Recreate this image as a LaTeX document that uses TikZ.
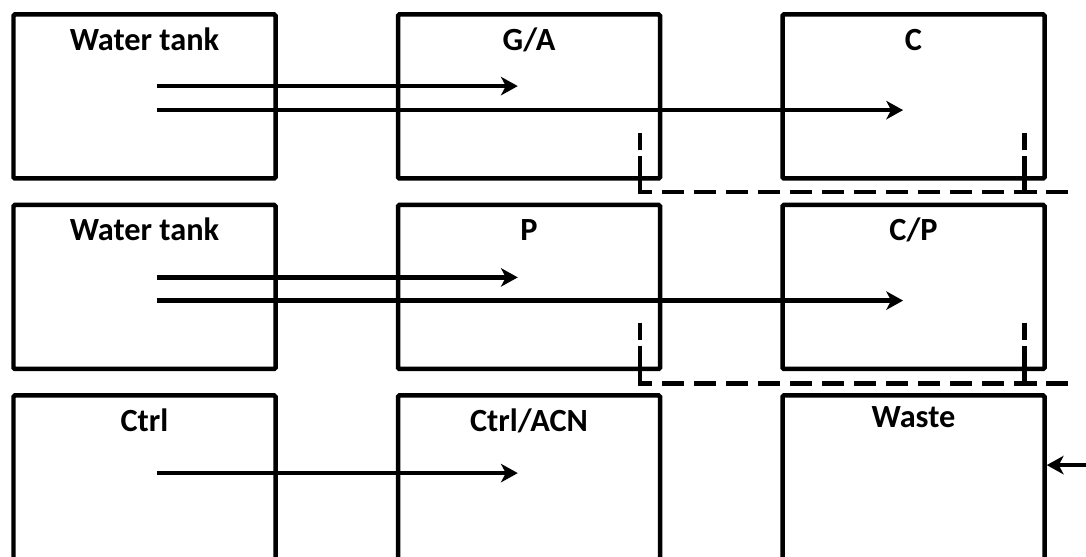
\documentclass[tikz,border=0pt]{standalone}
\usepackage{fontspec}
\setmainfont{Carlito}
\usetikzlibrary{arrows.meta,positioning,calc}
\tikzset{
  tank/.style={draw, line width=3.2pt, rounded corners=1pt, minimum width=6.55cm, minimum height=4.1cm, inner sep=0pt},
  lbl/.style={font=\fontsize{23}{27}\selectfont\bfseries, anchor=base, yshift=-0.95cm, inner sep=0pt},
  arr/.style={-{Stealth[length=4.2mm,width=4.6mm,inset=1.2mm]}, line width=3.2pt},
  drain/.style={line width=3.2pt, dash pattern=on 0.55cm off 0.25cm},
  drainbend/.style={line width=3.2pt, dash pattern=on 0.43cm off 0.16cm on 3cm}}

\begin{document}
\begin{tikzpicture}[node distance=0.55cm and 2.95cm]
  \useasboundingbox (0,0) rectangle (27.15,-13.925);
  \clip (0,0) rectangle (27.15,-13.925);
  % first row
  \node[tank, label={[lbl]north:Water tank}] (tank1) at (3.6125,-2.4125) {};
  \node[tank, right=of tank1, label={[lbl]north:G/A}] (ga) {};
  \node[tank, right=of ga, label={[lbl]north:C}] (c) {};
  % second row
  \node[tank, below=of tank1, label={[lbl]north:Water tank}] (tank2) {};
  \node[tank, right=of tank2, label={[lbl]north:P}] (p) {};
  \node[tank, right=of p, label={[lbl]north:C/P}] (cp) {};
  % third row
  \node[tank, below=of tank2, label={[lbl]north:Ctrl}] (ctrl) {};
  \node[tank, right=of ctrl, label={[lbl]north:Ctrl/ACN}] (ctrlacn) {};
  \node[tank, right=of ctrlacn, label={[lbl, yshift=0.1cm]north:Waste}] (waste) {};
  % flows
  \coordinate (tank1 a) at ([shift={(0.31,0.26)}]tank1.center);
  \coordinate (tank1 b) at ([shift={(0.31,-0.34)}]tank1.center);
  \coordinate (ga in) at ([shift={(-0.28,0.26)}]ga.center);
  \coordinate (c in) at ([shift={(-0.26,-0.34)}]c.center);
  \draw[arr] (tank1 a) -- (ga in);
  \draw[arr] (tank1 b) -- (c in);
  \coordinate (tank2 a) at ([shift={(0.31,0.24)}]tank2.center);
  \coordinate (tank2 b) at ([shift={(0.31,-0.34)}]tank2.center);
  \coordinate (p in) at ([shift={(-0.28,0.24)}]p.center);
  \coordinate (cp in) at ([shift={(-0.26,-0.34)}]cp.center);
  \draw[arr] (tank2 a) -- (p in);
  \draw[arr] (tank2 b) -- (cp in);
  \coordinate (ctrl a) at ([shift={(0.31,0.11)}]ctrl.center);
  \coordinate (ctrlacn in) at ([shift={(-0.28,0.11)}]ctrlacn.center);
  \draw[arr] (ctrl a) -- (ctrlacn in);
  % drains
  \coordinate (ga drain) at ([shift={(2.78,-0.91)}]ga.center);
  \coordinate (c drain) at ([shift={(2.78,-0.91)}]c.center);
  \coordinate (drain1 end) at ([shift={(4,-2.39)}]c.center);
  \coordinate (ga bend) at (ga drain |- drain1 end);
  \coordinate (c bend) at (c drain |- drain1 end);
  \draw[drainbend] (ga drain) |- ([xshift=0.3cm]ga bend);
  \draw[drain] ([xshift=0.55cm]ga bend) -- (drain1 end);
  \draw[drainbend] (c drain) |- ([xshift=0.3cm]c bend);
  \coordinate (p drain) at ([shift={(2.78,-0.89)}]p.center);
  \coordinate (cp drain) at ([shift={(2.78,-0.89)}]cp.center);
  \coordinate (drain2 end) at ([shift={(4,-2.41)}]cp.center);
  \coordinate (p bend) at (p drain |- drain2 end);
  \coordinate (cp bend) at (cp drain |- drain2 end);
  \draw[drainbend] (p drain) |- ([xshift=0.3cm]p bend);
  \draw[drain] ([xshift=0.55cm]p bend) -- (drain2 end);
  \draw[drainbend] (cp drain) |- ([xshift=0.3cm]cp bend);
  \coordinate (waste in) at ([yshift=0.31cm]waste.east);
  \coordinate (outfall) at ([xshift=2cm]waste in);
  \draw[arr] (outfall) -- (waste in);
\end{tikzpicture}
\end{document}
